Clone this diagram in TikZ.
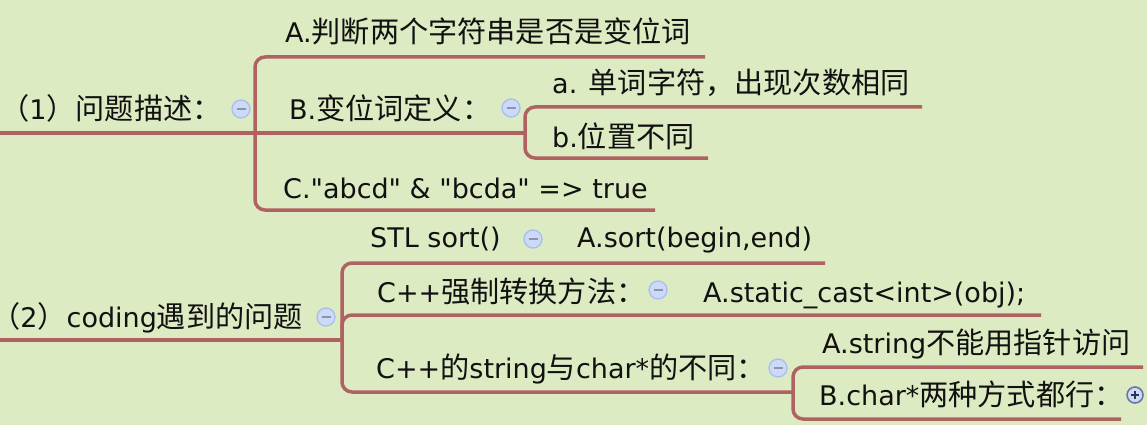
\documentclass[tikz,border=0pt]{standalone}
\usepackage{fontspec}
\newfontfamily\latfont{DejaVu Sans}
\newfontfamily\zhfont{Noto Sans CJK SC}[Scale=1.08]
\newcommand\zh[1]{{\zhfont #1}}
\definecolor{bgc}{HTML}{DDEBC3}
\definecolor{linec}{HTML}{B06262}
\definecolor{circfill}{HTML}{CCDAF7}
\definecolor{circdraw}{HTML}{A9BEF0}
\definecolor{minusc}{HTML}{8A94B0}
\definecolor{plusdraw}{HTML}{6878A0}
\definecolor{plusc}{HTML}{2A3550}
\definecolor{textc}{HTML}{111111}
\tikzset{
  branch/.style={draw=linec, line width=3.5pt, rounded corners=10pt},
  txt/.style={anchor=base west, inner sep=0pt, text=textc, font=\latfont\fontsize{27}{32}\selectfont},
  mcirc/.style={circle, minimum size=18pt, inner sep=0pt, fill=circfill, draw=circdraw, line width=1.3pt,
    path picture={\draw[minusc, line width=2.2pt] ([xshift=-4.5pt]path picture bounding box.center) -- ([xshift=4.5pt]path picture bounding box.center);}},
  pcirc/.style={circle, minimum size=16pt, inner sep=0pt, fill=circfill, draw=plusdraw, line width=1.6pt,
    path picture={\draw[plusc, line width=1.8pt] ([xshift=-4pt]path picture bounding box.center) -- ([xshift=4pt]path picture bounding box.center)
      ([yshift=-4pt]path picture bounding box.center) -- ([yshift=4pt]path picture bounding box.center);}}
}
\begin{document}
\begin{tikzpicture}[x=1pt,y=-1pt]
\fill[bgc] (0,0) rectangle (1147,425);
\useasboundingbox (0,0) rectangle (1147,425);

% ---------- section 1 ----------
\coordinate (r1) at (0,133);
\coordinate (j1) at (255,133);
\coordinate (j2) at (525,133);
\coordinate (Aend) at (705,57);
\coordinate (Cend) at (655,210);
\coordinate (aend) at (922,107);
\coordinate (bend) at (708,158);

\draw[branch] (r1) -- (j2);
\draw[branch] (Aend) -- (Aend -| j1) -- (Cend -| j1) -- (Cend);
\draw[branch] (aend) -- (aend -| j2) -- (bend -| j2) -- (bend);

\node[txt] (root1) at (0,120) {\zh{（}1\zh{）问题描述：}};
\node[mcirc] (m1) at (241,109) {};
\node[txt] (nA) at (285,43) {A.\zh{判断两个字符串是否是变位词}};
\node[txt] (nB) at (289,120) {B.\zh{变位词定义：}};
\node[mcirc] (m2) at (511,108) {};
\node[txt] (na) at (552,94) {a. \zh{单词字符，出现次数相同}};
\node[txt] (nb) at (552,147) {b.\zh{位置不同}};
\node[txt] (nC) at (283,198) {C."abcd" \& "bcda" => true};

% ---------- section 2 ----------
\coordinate (r2) at (0,340);
\coordinate (j3) at (342,340);
\coordinate (send) at (825,263);
\coordinate (kend) at (1041,315);
\coordinate (j4) at (793,392);
\coordinate (sa) at (1143,367);
\coordinate (sb) at (1121,419);

\draw[branch] (r2) -- (j3);
\draw[branch] (send) -- (send -| j3) -- (j4 -| j3) -- (j4);
\draw[branch] (j3) -- (kend -| j3) -- (kend);
\draw[branch] (sa) -- (sa -| j4) -- (sb -| j4) -- (sb);

\node[txt] (root2) at (-9,327) {\zh{（}2\zh{）}coding\zh{遇到的问题}};
\node[mcirc] (m3) at (326,317) {};
\node[txt] (nS) at (370,247) {STL sort()};
\node[mcirc] (m4) at (533,239) {};
\node[txt] (nSA) at (577,247) {A.sort(begin,end)};
\node[txt] (nK) at (377,302) {C++\zh{强制转换方法：}};
\node[mcirc] (m5) at (658,290) {};
\node[txt] (nKA) at (703,302) {A.static\_cast<int>(obj);};
\node[txt] (nD) at (376,378) {C++\zh{的}string\zh{与}char*\zh{的不同：}};
\node[mcirc] (m6) at (778,368) {};
\node[txt] (nDA) at (822,353) {A.string\zh{不能用指针访问}};
\node[txt] (nDB) at (819,405) {B.char*\zh{两种方式都行：}};
\node[pcirc] (p1) at (1135,395) {};
\end{tikzpicture}
\end{document}
